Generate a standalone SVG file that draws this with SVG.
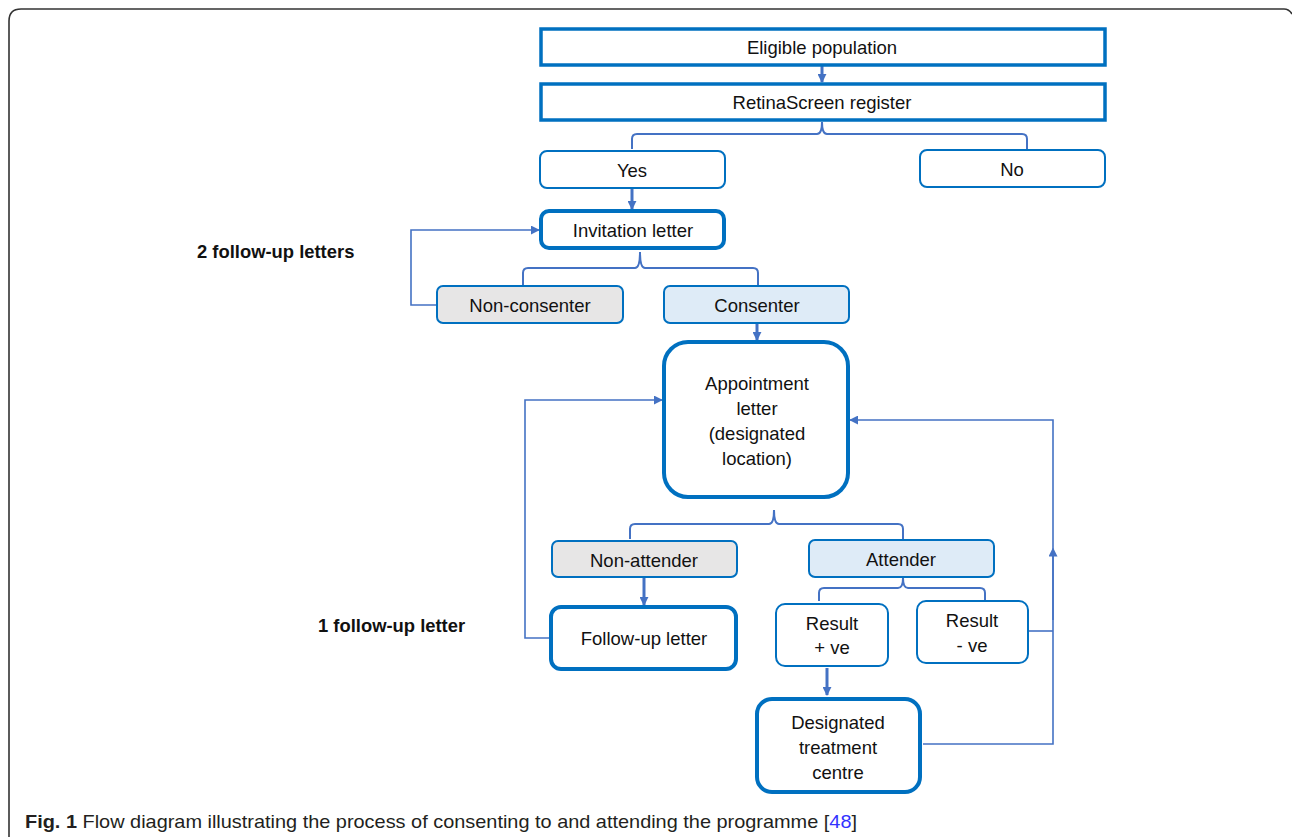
<svg xmlns="http://www.w3.org/2000/svg" width="1292" height="837" viewBox="0 0 1292 837">
<style>
.t{font-family:"Liberation Sans",Arial,sans-serif;font-size:18.5px;fill:#111;text-anchor:middle}
.b{font-family:"Liberation Sans",Arial,sans-serif;font-size:18.4px;font-weight:bold;fill:#111}
.sq{fill:#fff;stroke:#0070C0;stroke-width:3.5}
.thin{fill:#fff;stroke:#0070C0;stroke-width:2}
.thick{fill:#fff;stroke:#0070C0;stroke-width:4}
.gray{fill:#E7E6E6;stroke:#0070C0;stroke-width:2}
.blue{fill:#DEEBF7;stroke:#0070C0;stroke-width:2}
.c{fill:none;stroke:#4472C4;stroke-width:1.6}
.br{fill:none;stroke:#4472C4;stroke-width:2}
.ca{fill:none;stroke:#4472C4;stroke-width:3}
</style>
<defs>
<marker id="ahs" viewBox="0 0 10 10" refX="9" refY="5" markerWidth="9" markerHeight="9" orient="auto" markerUnits="userSpaceOnUse"><path d="M0,0 L10,5 L0,10 z" fill="#4472C4"/></marker>
<marker id="ahm" viewBox="0 0 10 10" refX="5" refY="5" markerWidth="9" markerHeight="9" orient="auto" markerUnits="userSpaceOnUse"><path d="M0,0 L10,5 L0,10 z" fill="#4472C4"/></marker>
</defs>
<rect width="1292" height="837" fill="#fff"/>
<path d="M9,837 V21 Q9,9 21,9 H1284 Q1289,9 1292,14" fill="none" stroke="#333" stroke-width="1.6"/>

<g id="connectors">
<line class="ca" x1="822" y1="66" x2="822" y2="82" marker-end="url(#ahs)"/>
<path class="br" d="M632,149 V139 Q632,134 637,134 H817 Q822,134 822,122 Q822,134 827,134 H1022 Q1027,134 1027,139 V149"/>
<line class="ca" x1="632" y1="189" x2="632" y2="209" marker-end="url(#ahs)"/>
<path class="br" d="M523,285 V273 Q523,268 528,268 H635 Q640,268 640,252 Q640,268 645,268 H753 Q758,268 758,273 V285"/>
<path class="c" d="M437,305 H411 V230 H539" marker-end="url(#ahs)"/>
<line class="ca" x1="757" y1="324" x2="757" y2="340" marker-end="url(#ahs)"/>
<path class="br" d="M630,539 V529 Q630,524 635,524 H769 Q774,524 774,510 Q774,524 779,524 H898 Q903,524 903,529 V539"/>
<line class="ca" x1="644" y1="578" x2="644" y2="605" marker-end="url(#ahs)"/>
<path class="c" d="M550,638 H525 V400 H662" marker-end="url(#ahs)"/>
<path class="br" d="M819,601 V593 Q819,588 824,588 H898 Q903,588 903,578 Q903,588 908,588 H980 Q985,588 985,593 V600"/>
<line class="ca" x1="827" y1="668" x2="827" y2="695" marker-end="url(#ahs)"/>
<path class="c" d="M923,744 H1053 V420 H850" marker-end="url(#ahs)"/>
<line class="c" x1="1053" y1="620" x2="1053" y2="552" marker-end="url(#ahm)"/>
<line class="c" x1="1028" y1="631" x2="1053" y2="631"/>
</g>

<g id="eligible"><rect class="sq" x="541" y="29" width="564" height="36"/><text class="t" x="822" y="54">Eligible population</text></g>
<g id="register"><rect class="sq" x="541" y="84" width="564" height="36"/><text class="t" x="822" y="109">RetinaScreen register</text></g>
<g id="yes"><rect class="thin" x="540" y="151" width="185" height="37" rx="7"/><text class="t" x="632" y="177">Yes</text></g>
<g id="no"><rect class="thin" x="920" y="150" width="185" height="37" rx="7"/><text class="t" x="1012" y="176">No</text></g>
<g id="invitation"><rect class="thick" x="541" y="211" width="183" height="37" rx="8"/><text class="t" x="633" y="237">Invitation letter</text></g>
<g id="nonconsenter"><rect class="gray" x="437" y="286" width="186" height="37" rx="6"/><text class="t" x="530" y="312">Non-consenter</text></g>
<g id="consenter"><rect class="blue" x="664" y="286" width="185" height="37" rx="6"/><text class="t" x="757" y="312">Consenter</text></g>
<g id="appointment"><rect class="thick" x="664" y="342" width="184" height="155" rx="24"/>
<text class="t" x="757" y="390">Appointment</text><text class="t" x="757" y="415">letter</text><text class="t" x="757" y="440">(designated</text><text class="t" x="757" y="465">location)</text></g>
<g id="nonattender"><rect class="gray" x="552" y="541" width="185" height="36" rx="6"/><text class="t" x="644" y="567">Non-attender</text></g>
<g id="attender"><rect class="blue" x="809" y="540" width="185" height="37" rx="6"/><text class="t" x="901" y="566">Attender</text></g>
<g id="followup"><rect class="thick" x="551" y="607" width="185" height="62" rx="10"/><text class="t" x="644" y="645">Follow-up letter</text></g>
<g id="resultpos"><rect class="thin" x="776" y="604" width="112" height="62" rx="9"/><text class="t" x="832" y="630">Result</text><text class="t" x="832" y="654">+ ve</text></g>
<g id="resultneg"><rect class="thin" x="917" y="601" width="111" height="62" rx="9"/><text class="t" x="972" y="627">Result</text><text class="t" x="972" y="652">- ve</text></g>
<g id="treatment"><rect class="thick" x="757" y="699" width="163" height="93" rx="15"/><text class="t" x="838" y="729">Designated</text><text class="t" x="838" y="754">treatment</text><text class="t" x="838" y="779">centre</text></g>

<g id="labels">
<text class="b" x="197" y="258">2 follow-up letters</text>
<text class="b" x="318" y="632">1 follow-up letter</text>
</g>
<text x="25" y="828" font-family="Liberation Sans,Arial,sans-serif" font-size="19" fill="#231F20" textLength="832" lengthAdjust="spacingAndGlyphs"><tspan font-weight="bold">Fig. 1</tspan> Flow diagram illustrating the process of consenting to and attending the programme [<tspan fill="#3333FF">48</tspan>]</text>
</svg>
